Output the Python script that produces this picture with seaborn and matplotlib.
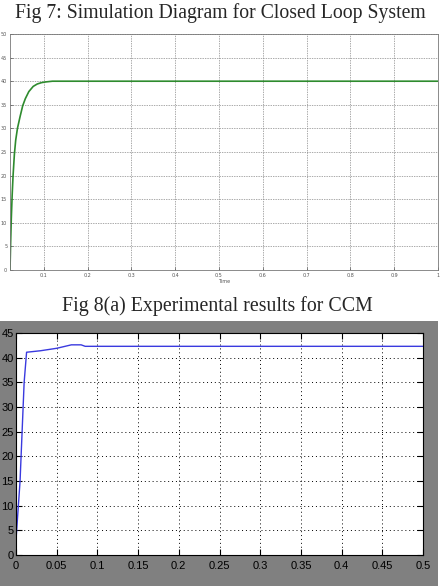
import matplotlib
matplotlib.use("Agg")
import matplotlib.pyplot as plt
import seaborn as sns
import pandas as pd
from matplotlib.patches import Rectangle

# ---- data: Fig 7 (simulation, closed loop) ----
sim_time = [0.023, 0.0245, 0.026, 0.028, 0.030, 0.033, 0.036, 0.040, 0.046, 0.052,
            0.058, 0.066, 0.076, 0.085, 0.095, 0.105, 0.12, 1.0]
sim_value = [0.0, 6.0, 11.0, 16.0, 20.0, 24.5, 27.5, 30.0, 32.5, 34.8,
             36.3, 37.8, 38.9, 39.4, 39.7, 39.85, 40.0, 40.0]
sim_yticks = [0, 5, 10, 15, 20, 25, 30, 35, 40, 45, 50]
sim_xticks = [0.1, 0.2, 0.3, 0.4, 0.5, 0.6, 0.7, 0.8, 0.9, 1.0]
sim_xticklabels = ["0.1", "0.2", "0.3", "0.4", "0.5", "0.6", "0.7", "0.8", "0.9", "1"]

# ---- data: Fig 8(a) (experimental, CCM) ----
exp_time = [0.0, 0.0004, 0.005, 0.010, 0.013, 0.03, 0.05, 0.068, 0.080, 0.085, 0.5]
exp_value = [0.0, 4.0, 15.0, 35.0, 41.1, 41.4, 41.9, 42.6, 42.6, 42.3, 42.3]
exp_yticks = [0, 5, 10, 15, 20, 25, 30, 35, 40, 45]
exp_xticks = [0, 0.05, 0.1, 0.15, 0.2, 0.25, 0.3, 0.35, 0.4, 0.45, 0.5]
exp_xticklabels = ["0", "0.05", "0.1", "0.15", "0.2", "0.25", "0.3", "0.35", "0.4", "0.45", "0.5"]

title1 = "Fig 7: Simulation Diagram for Closed Loop System"
title2 = "Fig 8(a) Experimental results for CCM"

sns.set_theme(style="white")
plt.rcParams["font.family"] = ["DejaVu Sans"]

W, H = 440, 586
fig = plt.figure(figsize=(W / 100, H / 100), dpi=100)
fig.patch.set_facecolor("white")

def fx(px):
    return px / W

def fy(py):
    return 1 - py / H

# gray background of second figure
fig.patches.append(Rectangle((0, 0), fx(438), fy(321), transform=fig.transFigure,
                             facecolor="#808080", edgecolor="none", zorder=-5))

serif = ["Liberation Serif", "DejaVu Serif"]
fig.text(0.5, fy(13), title1, ha="center", va="center", fontsize=14.2, family=serif)
fig.text(0.495, fy(306), title2, ha="center", va="center", fontsize=14.3, family=serif)

# ---- top axes ----
ax1 = fig.add_axes([fx(10), fy(270), fx(438) - fx(10), fy(34) - fy(270)])
df1 = pd.DataFrame({"Time": sim_time, "Value": sim_value})
sns.lineplot(data=df1, x="Time", y="Value", ax=ax1, color="#2e8b2e", linewidth=1.2)
ax1.set_xlim(0.023, 1.0)
ax1.set_ylim(0, 50)
ax1.set_xticks(sim_xticks)
ax1.set_xticklabels(sim_xticklabels)
ax1.set_yticks(sim_yticks)
ax1.tick_params(axis="both", direction="in", length=2, width=0.5, labelsize=3.5,
                colors="#555555", pad=2, left=True, bottom=True)
ax1.grid(True, color="#888888", linestyle=(0, (2, 1.5)), linewidth=0.5)
for s in ax1.spines.values():
    s.set_color("#777777")
    s.set_linewidth(0.6)
ax1.set_xlabel("Time", fontsize=3.5, color="#555555", labelpad=1)
ax1.set_ylabel("")

# ---- bottom axes ----
ax2 = fig.add_axes([fx(16), fy(555), fx(423) - fx(16), fy(333) - fy(555)])
ax2.set_facecolor("white")
df2 = pd.DataFrame({"t": exp_time, "v": exp_value})
sns.lineplot(data=df2, x="t", y="v", ax=ax2, color="#3a3adf", linewidth=1.0)
ax2.set_xlim(0, 0.5)
ax2.set_ylim(0, 45)
ax2.set_xticks(exp_xticks)
ax2.set_xticklabels(exp_xticklabels)
ax2.set_yticks(exp_yticks)
narrow = ["Liberation Sans", "DejaVu Sans"]
ax2.tick_params(axis="both", direction="in", length=4, width=0.8, labelsize=8,
                colors="black", left=True, bottom=True, right=True, top=True)
ax2.tick_params(axis="y", pad=1.5)
ax2.tick_params(axis="x", pad=4)
for lab in ax2.get_xticklabels() + ax2.get_yticklabels():
    lab.set_family(narrow)
ax2.grid(True, color="black", linestyle=(0, (1, 3)), linewidth=0.7)
for s in ax2.spines.values():
    s.set_color("black")
    s.set_linewidth(0.8)
ax2.set_xlabel("")
ax2.set_ylabel("")

fig.savefig("out.png", dpi=100)
